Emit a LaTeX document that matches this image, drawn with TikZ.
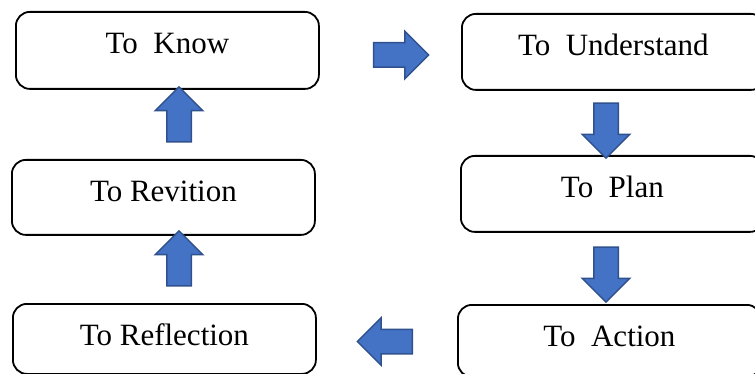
\documentclass[tikz,border=0pt]{standalone}
\usepackage{fontspec}
\setmainfont{Liberation Serif}
\usetikzlibrary{%
  positioning,
  calc,
  shapes.arrows
}
\definecolor{arrowblue}{HTML}{4472C4}
\definecolor{arrowedge}{HTML}{2F528F}
\tikzset{
  stage/.style = {draw, line width = 1.8pt, rounded corners = 14pt,
    minimum width = 303pt, inner xsep = 0, inner ysep = 0,
    text height = 42pt, text depth = 34pt, anchor = north west},
  blockarrow/.style = {single arrow, fill = arrowblue, draw = arrowedge,
    line width = 1.5pt, minimum height = 55pt, inner xsep = 0,
    inner ysep = 11.5pt, outer sep = 0,
    single arrow head extend = 11.5pt, single arrow tip angle = 90}
}

\begin{document}
\begin{tikzpicture}[
      x = 1pt, y = -1pt,
      font = \fontsize{31}{36}\selectfont
      ]
  \useasboundingbox (0,0) rectangle (755,374);
  \clip (0,0) rectangle (755,374);
  % left column, read bottom to top
  \node[stage, text depth = 35pt] (know) at (15,11) {To\ \ Know};
  \node[stage, text depth = 33pt] (revition) at (11,159) {To Revition};
  \node[stage, text depth = 28pt] (reflection) at (12,303) {To Reflection};
  % right column
  \node[stage] (understand) at (461,13) {To\ \ Understand};
  \node[stage] (plan) at (460,155) {To\ \ Plan};
  \node[stage, text depth = 30pt] (action) at (457,304) {To\ \ Action};
  % block arrows
  \node[blockarrow] (toright) at (395,55) {};
  \node[blockarrow, rotate = -90] (down1) at (606,124.5) {};
  \node[blockarrow, rotate = -90] (down2) at (606,268.5) {};
  \node[blockarrow, rotate = 180] (toleft) at (391,341.5) {};
  \node[blockarrow, rotate = 90] (up1) at (179,264.5) {};
  \node[blockarrow, rotate = 90] (up2) at (179,120.5) {};
\end{tikzpicture}
\end{document}
